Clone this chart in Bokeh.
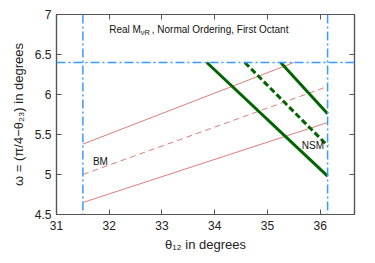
from bokeh.plotting import figure
from bokeh.models import Span, Label, LinearAxis, FixedTicker, Range1d
from bokeh.embed import file_html
from bokeh.resources import INLINE

# Data
x_ticks = [31, 32, 33, 34, 35, 36]
y_ticks = [4.5, 5, 5.5, 6, 6.5, 7]

theta12_min = 31.5
theta12_max = 36.14
omega_max = 6.4

red_lower_x = [31.5, 36.14]
red_lower_y = [4.65, 5.65]
red_mid_x = [31.5, 36.14]
red_mid_y = [5.0, 6.1]
red_upper_x = [31.5, 35.5]
red_upper_y = [5.38, 6.4]

green_left_x = [33.85, 36.14]
green_left_y = [6.4, 4.98]
green_dash_x = [34.57, 36.14]
green_dash_y = [6.4, 5.36]
green_right_x = [35.25, 36.14]
green_right_y = [6.4, 5.76]

FONT = "Liberation Sans"
RED = "#e07b7b"
GREEN = "#006400"
BLUE = "#3a9bff"
AX = "#555555"

p = figure(width=367, height=255, output_backend="svg", toolbar_location=None,
           x_range=Range1d(31, 36.65), y_range=Range1d(4.5, 7.0),
           min_border_left=56, min_border_right=13, min_border_top=14, min_border_bottom=41)
p.background_fill_color = "white"
p.border_fill_color = "white"
p.outline_line_color = AX
p.outline_line_width = 1.2
p.xgrid.visible = False
p.ygrid.visible = False

for ax, ticks in ((p.xaxis[0], x_ticks), (p.yaxis[0], y_ticks)):
    ax.ticker = FixedTicker(ticks=ticks)
    ax.major_tick_in = 5
    ax.major_tick_out = 0
    ax.minor_tick_line_color = None
    ax.axis_line_color = AX
    ax.axis_line_width = 1.2
    ax.major_tick_line_color = AX
    ax.major_label_text_font = FONT
    ax.major_label_text_font_size = "12px"
    ax.major_label_text_color = "#222222"
    ax.axis_label_text_font = FONT
    ax.axis_label_text_font_size = "13px"
    ax.axis_label_text_font_style = "normal"
    ax.axis_label_text_color = "#222222"

p.xaxis[0].axis_label = "θ₁₂ in degrees"
p.yaxis[0].axis_label = "ω = (π/4−θ₂₃) in degrees"
p.xaxis[0].major_label_standoff = 6
p.yaxis[0].major_label_standoff = 5
p.xaxis[0].axis_label_standoff = 4
p.yaxis[0].axis_label_standoff = 6

for side, ticks in (("above", x_ticks), ("right", y_ticks)):
    a = LinearAxis(ticker=FixedTicker(ticks=ticks), major_tick_in=5, major_tick_out=0,
                   minor_tick_line_color=None, axis_line_color=AX, axis_line_width=1.2,
                   major_tick_line_color=AX,
                   major_label_overrides={t: "" for t in ticks},
                   major_label_standoff=0)
    p.add_layout(a, side)

# Blue boundary lines
for loc, dim in ((theta12_min, "height"), (theta12_max, "height"), (omega_max, "width")):
    p.add_layout(Span(location=loc, dimension=dim, line_color=BLUE,
                      line_width=1.5, line_dash="9 3 2 3"))

# Red (BM) lines
p.line(red_lower_x, red_lower_y, line_color=RED, line_width=1)
p.line(red_mid_x, red_mid_y, line_color=RED, line_width=1, line_dash="6 4")
p.line(red_upper_x, red_upper_y, line_color=RED, line_width=1)

# Green (NSM) lines
p.line(green_left_x, green_left_y, line_color=GREEN, line_width=3)
p.line(green_dash_x, green_dash_y, line_color=GREEN, line_width=3, line_dash="6 3")
p.line(green_right_x, green_right_y, line_color=GREEN, line_width=3)

# Text labels
p.add_layout(Label(x=32.0, y=6.81, text="Real M", text_font=FONT, text_font_size="10px",
                   text_baseline="middle", text_color="#111111"))
p.add_layout(Label(x=32.0, y=6.81, x_offset=31.5, y_offset=-3, text="νR", text_font=FONT,
                   text_font_size="7.5px", text_baseline="middle", text_color="#111111"))
p.add_layout(Label(x=32.0, y=6.81, x_offset=42.5, text=", Normal Ordering, First Octant",
                   text_font=FONT, text_font_size="10px", text_baseline="middle",
                   text_color="#111111"))
p.add_layout(Label(x=31.69, y=5.16, text="BM", text_font=FONT, text_font_size="10px",
                   text_baseline="middle", text_color="#111111"))
p.add_layout(Label(x=35.65, y=5.36, text="NSM", text_font=FONT, text_font_size="10px",
                   text_baseline="middle", text_color="#111111"))

open("out.html", "w").write(file_html(p, INLINE))
